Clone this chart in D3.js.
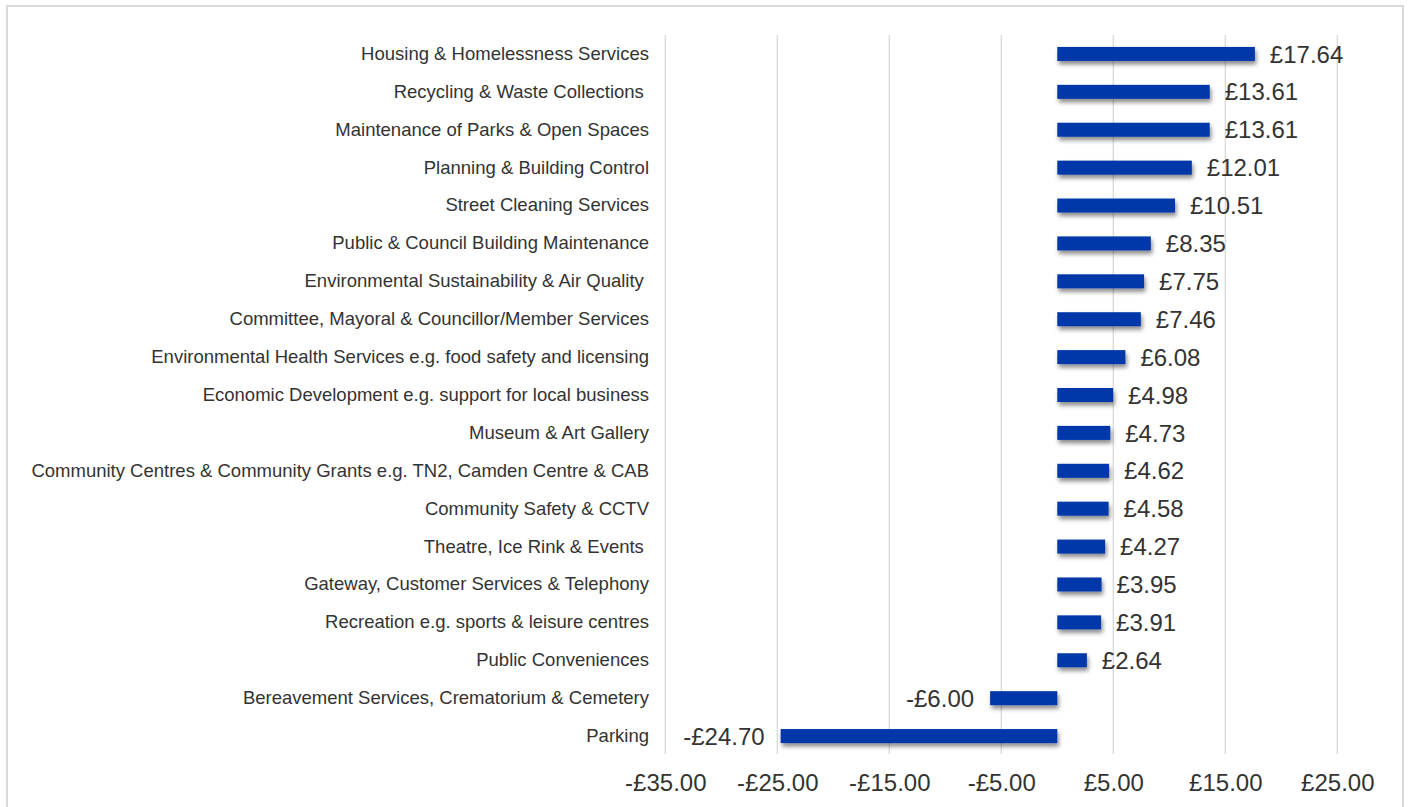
<!DOCTYPE html>
<html>
<head>
<meta charset="utf-8">
<script src="https://cdn.jsdelivr.net/npm/d3@7"></script>
<style>
  body { margin: 0; background: #fff; }
  text { font-family: "Liberation Sans", Arial, sans-serif; white-space: pre; }
</style>
</head>
<body>
<div id="chart"></div>
<script>
var categories = [
    "Housing & Homelessness Services",
    "Recycling & Waste Collections ",
    "Maintenance of Parks & Open Spaces",
    "Planning & Building Control",
    "Street Cleaning Services",
    "Public & Council Building Maintenance",
    "Environmental Sustainability & Air Quality ",
    "Committee, Mayoral & Councillor/Member Services",
    "Environmental Health Services e.g. food safety and licensing",
    "Economic Development e.g. support for local business",
    "Museum & Art Gallery",
    "Community Centres & Community Grants e.g. TN2, Camden Centre & CAB",
    "Community Safety & CCTV",
    "Theatre, Ice Rink & Events ",
    "Gateway, Customer Services & Telephony",
    "Recreation e.g. sports & leisure centres",
    "Public Conveniences",
    "Bereavement Services, Crematorium & Cemetery",
    "Parking"
];
var values = [17.64, 13.61, 13.61, 12.01, 10.51, 8.35, 7.75, 7.46, 6.08, 4.98,
              4.73, 4.62, 4.58, 4.27, 3.95, 3.91, 2.64, -6.00, -24.70];
var tickValues = [-35, -25, -15, -5, 5, 15, 25];

function money(v) {
    return (v < 0 ? "-£" : "£") + Math.abs(v).toFixed(2);
}

function init() {
    var w = 1408;
    var h = 807;

    var svg = d3.select("#chart")
                .append("svg")
                .attr("width", w)
                .attr("height", h);

    // chart frame
    svg.append("rect")
       .attr("x", 7)
       .attr("y", 6)
       .attr("width", 1396)
       .attr("height", 820)
       .attr("fill", "none")
       .attr("stroke", "#d9d9d9")
       .attr("stroke-width", 2);

    var defs = svg.append("defs");
    var f = defs.append("filter")
                .attr("id", "shadow")
                .attr("x", "-10%").attr("y", "-50%")
                .attr("width", "130%").attr("height", "250%");
    f.append("feDropShadow")
     .attr("dx", 1.5)
     .attr("dy", 3.5)
     .attr("stdDeviation", 2)
     .attr("flood-color", "#000")
     .attr("flood-opacity", 0.45);

    var x = d3.scaleLinear()
              .domain([-35, 25])
              .range([665.3, 1337.3]);

    var y = d3.scaleBand()
              .domain(categories)
              .range([35, 755])
              .paddingInner(0.63)
              .paddingOuter(0.315);

    // gridlines
    svg.append("g")
       .selectAll("line")
       .data(tickValues)
       .enter()
       .append("line")
       .attr("x1", function(d) { return x(d); })
       .attr("x2", function(d) { return x(d); })
       .attr("y1", 35)
       .attr("y2", 754)
       .attr("stroke", "#d9d9d9")
       .attr("stroke-width", 1.3);

    // x axis labels
    var xAxis = d3.axisBottom(x)
                  .tickValues(tickValues)
                  .tickSize(0)
                  .tickPadding(0)
                  .tickFormat(money);
    var gx = svg.append("g")
                .attr("transform", "translate(0,791)")
                .call(xAxis);
    gx.select(".domain").remove();
    gx.selectAll("text")
      .attr("y", 0)
      .attr("dy", 0)
      .attr("font-size", 24)
      .attr("fill", "#333")
      .style("font-family", "Liberation Sans, Arial, sans-serif");

    // category labels
    var yAxis = d3.axisLeft(y)
                  .tickSize(0)
                  .tickPadding(0);
    var gy = svg.append("g")
                .attr("transform", "translate(649,0)")
                .call(yAxis);
    gy.select(".domain").remove();
    gy.selectAll("text")
      .attr("font-size", 18.5)
      .attr("fill", "#333")
      .style("font-family", "Liberation Sans, Arial, sans-serif");

    // bars
    svg.append("g")
       .selectAll("rect")
       .data(values)
       .enter()
       .append("rect")
       .attr("x", function(d) { return x(Math.min(0, d)); })
       .attr("y", function(d, i) { return y(categories[i]); })
       .attr("width", function(d) { return Math.abs(x(d) - x(0)); })
       .attr("height", y.bandwidth())
       .attr("fill", "#0639a9")
       .attr("filter", "url(#shadow)");

    // value labels
    svg.append("g")
       .selectAll("text")
       .data(values)
       .enter()
       .append("text")
       .attr("x", function(d) { return d < 0 ? x(d) - 16 : x(d) + 15; })
       .attr("y", function(d, i) { return y(categories[i]) + y.bandwidth() / 2; })
       .attr("dy", "0.36em")
       .attr("text-anchor", function(d) { return d < 0 ? "end" : "start"; })
       .attr("font-size", 24)
       .attr("fill", "#333")
       .text(money);
}
window.onload = init;
</script>
</body>
</html>
